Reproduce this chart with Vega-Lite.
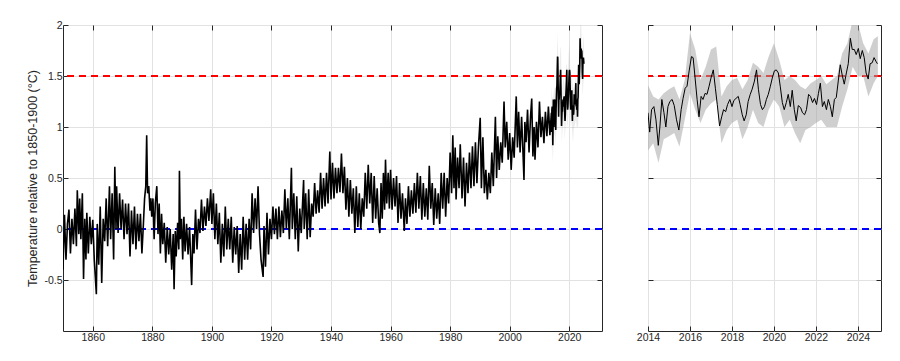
{
  "$schema": "https://vega.github.io/schema/vega-lite/v6.json",
  "padding": {"left": 26, "top": 19, "right": 5, "bottom": 5},
  "spacing": 46,
  "bounds": "flush",
  "config": {
    "font": "Liberation Sans",
    "view": {"stroke": "#262626", "strokeWidth": 1},
    "axis": {
      "domain": false,
      "tickSize": -5,
      "tickColor": "#262626",
      "labelColor": "#262626",
      "labelFont": "Liberation Sans",
      "labelFontSize": 10.5,
      "labelPadding": 6,
      "labelFlush": false,
      "labelOverlap": false,
      "titleFont": "Liberation Sans",
      "titleFontSize": 12.5,
      "titleFontWeight": "normal",
      "titleColor": "#262626",
      "titlePadding": 4,
      "gridColor": "#e2e2e2",
      "gridOpacity": 1
    }
  },
  "datasets": {
    "series": [
      {"t":1850.0,"v":-0.40},{"t":1850.5,"v":0.14},{"t":1851.0,"v":-0.30},{"t":1851.5,"v":0.05},
      {"t":1852.0,"v":0.19},{"t":1852.5,"v":-0.24},{"t":1853.0,"v":0.10},{"t":1853.5,"v":-0.15},
      {"t":1854.0,"v":0.20},{"t":1854.5,"v":-0.17},{"t":1854.8,"v":0.38},{"t":1855.3,"v":-0.05},{"t":1855.6,"v":0.30},
      {"t":1856.0,"v":-0.10},{"t":1856.5,"v":0.35},{"t":1856.9,"v":-0.49},{"t":1857.3,"v":0.10},{"t":1857.7,"v":-0.30},
      {"t":1858.0,"v":0.16},{"t":1858.5,"v":-0.24},{"t":1859.0,"v":0.12},{"t":1859.5,"v":-0.15},
      {"t":1860.0,"v":0.09},{"t":1860.5,"v":-0.30},{"t":1861.2,"v":-0.64},{"t":1861.5,"v":0.05},{"t":1862.0,"v":-0.35},
      {"t":1862.5,"v":0.22},{"t":1863.0,"v":-0.53},{"t":1863.5,"v":0.10},{"t":1864.0,"v":-0.12},
      {"t":1864.5,"v":0.30},{"t":1865.0,"v":-0.17},{"t":1865.6,"v":0.42},{"t":1866.0,"v":-0.10},
      {"t":1866.5,"v":0.35},{"t":1867.0,"v":-0.30},{"t":1867.4,"v":0.61},{"t":1867.8,"v":0.00},
      {"t":1868.0,"v":0.42},{"t":1868.5,"v":-0.04},{"t":1869.0,"v":0.35},{"t":1869.5,"v":0.00},
      {"t":1870.0,"v":0.29},{"t":1870.5,"v":-0.10},{"t":1871.0,"v":0.25},{"t":1871.5,"v":-0.05},
      {"t":1872.0,"v":0.25},{"t":1872.5,"v":-0.27},{"t":1873.0,"v":0.18},{"t":1873.5,"v":-0.15},
      {"t":1874.0,"v":0.22},{"t":1874.5,"v":-0.20},{"t":1875.0,"v":0.15},{"t":1875.5,"v":-0.12},
      {"t":1876.0,"v":0.15},{"t":1876.5,"v":-0.24},{"t":1877.0,"v":0.05},{"t":1877.4,"v":0.30},{"t":1877.8,"v":0.42},{"t":1878.1,"v":0.92},{"t":1878.4,"v":0.35},
      {"t":1878.8,"v":0.42},{"t":1879.2,"v":0.18},{"t":1879.5,"v":0.30},{"t":1879.8,"v":0.12},
      {"t":1880.2,"v":0.30},{"t":1880.6,"v":-0.10},{"t":1881.0,"v":0.25},{"t":1881.5,"v":0.42},{"t":1881.9,"v":-0.05},
      {"t":1882.3,"v":0.25},{"t":1882.7,"v":-0.24},{"t":1883.1,"v":0.15},{"t":1883.5,"v":-0.15},
      {"t":1884.0,"v":0.06},{"t":1884.5,"v":-0.33},{"t":1885.0,"v":0.02},{"t":1885.5,"v":-0.25},
      {"t":1886.0,"v":0.00},{"t":1886.5,"v":-0.40},{"t":1887.0,"v":-0.05},{"t":1887.3,"v":-0.59},{"t":1887.7,"v":-0.02},
      {"t":1888.0,"v":-0.27},{"t":1888.5,"v":0.06},{"t":1888.9,"v":-0.20},{"t":1889.1,"v":0.57},{"t":1889.4,"v":-0.10},
      {"t":1889.8,"v":0.10},{"t":1890.2,"v":-0.30},{"t":1890.6,"v":0.12},{"t":1891.0,"v":-0.22},{"t":1891.5,"v":0.05},
      {"t":1892.0,"v":-0.25},{"t":1892.5,"v":0.02},{"t":1893.2,"v":-0.55},{"t":1893.6,"v":-0.05},
      {"t":1894.0,"v":-0.24},{"t":1894.5,"v":0.19},{"t":1895.0,"v":-0.20},{"t":1895.5,"v":0.10},
      {"t":1896.0,"v":-0.04},{"t":1896.5,"v":0.29},{"t":1897.0,"v":-0.02},{"t":1897.5,"v":0.22},
      {"t":1898.0,"v":0.03},{"t":1898.5,"v":0.30},{"t":1899.0,"v":0.08},{"t":1899.6,"v":0.39},
      {"t":1900.0,"v":0.05},{"t":1900.5,"v":0.35},{"t":1901.0,"v":-0.10},{"t":1901.5,"v":0.25},
      {"t":1902.0,"v":-0.15},{"t":1902.5,"v":0.16},{"t":1903.0,"v":-0.33},{"t":1903.5,"v":0.05},
      {"t":1904.0,"v":-0.27},{"t":1904.5,"v":0.22},{"t":1905.0,"v":-0.20},{"t":1905.5,"v":0.10},
      {"t":1906.0,"v":-0.20},{"t":1906.5,"v":0.12},{"t":1907.0,"v":-0.33},{"t":1907.5,"v":0.02},
      {"t":1908.0,"v":-0.25},{"t":1908.5,"v":0.03},{"t":1909.0,"v":-0.43},{"t":1909.5,"v":-0.05},
      {"t":1910.0,"v":-0.40},{"t":1910.5,"v":0.12},{"t":1911.0,"v":-0.30},{"t":1911.5,"v":0.05},
      {"t":1912.0,"v":-0.30},{"t":1912.5,"v":0.10},{"t":1913.0,"v":-0.20},{"t":1913.5,"v":0.35},
      {"t":1914.0,"v":-0.04},{"t":1914.5,"v":0.30},{"t":1915.0,"v":0.00},{"t":1915.5,"v":0.42},
      {"t":1916.0,"v":-0.05},{"t":1916.5,"v":-0.30},{"t":1917.2,"v":-0.47},{"t":1917.5,"v":0.03},
      {"t":1918.0,"v":-0.37},{"t":1918.5,"v":0.16},{"t":1919.0,"v":-0.25},{"t":1919.5,"v":0.10},
      {"t":1920.0,"v":-0.10},{"t":1920.5,"v":0.22},{"t":1921.0,"v":-0.05},{"t":1921.5,"v":0.20},
      {"t":1922.0,"v":-0.10},{"t":1922.5,"v":0.22},{"t":1923.0,"v":-0.08},{"t":1923.5,"v":0.18},
      {"t":1924.0,"v":-0.04},{"t":1924.5,"v":0.39},{"t":1925.0,"v":0.00},{"t":1925.5,"v":0.30},
      {"t":1926.0,"v":-0.10},{"t":1926.7,"v":0.60},{"t":1927.0,"v":0.00},{"t":1927.5,"v":0.35},
      {"t":1928.0,"v":-0.10},{"t":1928.5,"v":0.32},{"t":1929.0,"v":-0.22},{"t":1929.5,"v":0.20},
      {"t":1930.0,"v":-0.04},{"t":1930.8,"v":0.48},{"t":1931.0,"v":0.00},{"t":1931.5,"v":0.35},
      {"t":1932.0,"v":-0.10},{"t":1932.5,"v":0.39},{"t":1933.0,"v":-0.08},{"t":1933.5,"v":0.25},
      {"t":1934.0,"v":0.12},{"t":1934.5,"v":0.45},{"t":1935.0,"v":0.15},{"t":1935.5,"v":0.38},
      {"t":1936.0,"v":0.16},{"t":1936.5,"v":0.55},{"t":1937.0,"v":0.20},{"t":1937.5,"v":0.50},
      {"t":1938.0,"v":0.22},{"t":1938.5,"v":0.55},{"t":1939.0,"v":0.25},{"t":1939.6,"v":0.76},
      {"t":1940.0,"v":0.29},{"t":1940.5,"v":0.65},{"t":1941.0,"v":0.30},{"t":1941.5,"v":0.60},
      {"t":1942.0,"v":0.35},{"t":1942.5,"v":0.60},{"t":1943.0,"v":0.36},{"t":1943.5,"v":0.74},
      {"t":1944.0,"v":0.35},{"t":1944.5,"v":0.61},{"t":1945.0,"v":0.19},{"t":1945.5,"v":0.50},
      {"t":1946.0,"v":0.12},{"t":1946.5,"v":0.48},{"t":1947.0,"v":0.15},{"t":1947.5,"v":0.40},
      {"t":1948.0,"v":-0.04},{"t":1948.5,"v":0.42},{"t":1949.0,"v":0.02},{"t":1949.5,"v":0.35},
      {"t":1950.0,"v":0.00},{"t":1950.5,"v":0.30},{"t":1951.0,"v":0.12},{"t":1951.5,"v":0.55},
      {"t":1952.0,"v":0.20},{"t":1952.5,"v":0.63},{"t":1953.0,"v":0.25},{"t":1953.5,"v":0.55},
      {"t":1954.0,"v":0.06},{"t":1954.5,"v":0.52},{"t":1955.0,"v":0.10},{"t":1955.5,"v":0.40},
      {"t":1956.0,"v":0.06},{"t":1956.4,"v":-0.04},{"t":1956.8,"v":0.45},{"t":1957.2,"v":0.10},{"t":1957.6,"v":0.55},
      {"t":1958.0,"v":0.19},{"t":1958.3,"v":0.68},{"t":1958.7,"v":0.25},{"t":1959.2,"v":0.55},{"t":1959.6,"v":0.20},
      {"t":1960.0,"v":0.58},{"t":1960.5,"v":0.19},{"t":1961.0,"v":0.50},{"t":1961.5,"v":0.22},
      {"t":1962.0,"v":0.52},{"t":1962.5,"v":0.06},{"t":1963.0,"v":0.45},{"t":1963.5,"v":0.10},
      {"t":1964.0,"v":0.35},{"t":1964.6,"v":-0.02},{"t":1965.0,"v":0.30},{"t":1965.5,"v":0.05},
      {"t":1966.0,"v":0.42},{"t":1966.5,"v":0.12},{"t":1967.0,"v":0.38},{"t":1967.5,"v":0.15},
      {"t":1968.0,"v":0.45},{"t":1968.5,"v":0.16},{"t":1969.0,"v":0.55},{"t":1969.5,"v":0.20},
      {"t":1970.0,"v":0.52},{"t":1970.5,"v":0.09},{"t":1971.0,"v":0.45},{"t":1971.5,"v":0.12},
      {"t":1972.0,"v":0.40},{"t":1972.5,"v":0.09},{"t":1973.0,"v":0.62},{"t":1973.5,"v":0.20},
      {"t":1974.0,"v":0.45},{"t":1974.5,"v":0.04},{"t":1975.0,"v":0.40},{"t":1975.5,"v":0.10},
      {"t":1976.0,"v":0.35},{"t":1976.5,"v":0.05},{"t":1977.0,"v":0.55},{"t":1977.5,"v":0.20},
      {"t":1978.0,"v":0.55},{"t":1978.5,"v":0.12},{"t":1979.0,"v":0.50},{"t":1979.5,"v":0.25},
      {"t":1980.0,"v":0.75},{"t":1980.5,"v":0.35},{"t":1980.9,"v":0.92},{"t":1981.3,"v":0.40},
      {"t":1981.7,"v":0.80},{"t":1982.0,"v":0.29},{"t":1982.5,"v":0.70},{"t":1983.0,"v":0.40},{"t":1983.4,"v":0.83},
      {"t":1984.0,"v":0.30},{"t":1984.5,"v":0.70},{"t":1985.0,"v":0.22},{"t":1985.5,"v":0.65},
      {"t":1986.0,"v":0.35},{"t":1986.5,"v":0.75},{"t":1987.0,"v":0.40},{"t":1987.5,"v":0.81},
      {"t":1988.0,"v":0.42},{"t":1988.5,"v":0.85},{"t":1989.0,"v":0.45},{"t":1989.5,"v":0.80},
      {"t":1990.1,"v":1.09},{"t":1990.5,"v":0.40},{"t":1991.0,"v":0.90},{"t":1991.5,"v":0.35},
      {"t":1992.0,"v":0.58},{"t":1992.5,"v":0.29},{"t":1993.0,"v":0.55},{"t":1993.5,"v":0.35},
      {"t":1994.0,"v":0.75},{"t":1994.5,"v":0.42},{"t":1995.2,"v":1.10},{"t":1995.6,"v":0.50},
      {"t":1996.0,"v":0.91},{"t":1996.5,"v":0.58},{"t":1997.0,"v":0.85},{"t":1997.5,"v":0.65},
      {"t":1998.1,"v":1.25},{"t":1998.5,"v":0.80},{"t":1999.0,"v":1.05},{"t":1999.5,"v":0.68},
      {"t":2000.0,"v":0.94},{"t":2000.5,"v":0.58},{"t":2001.0,"v":0.90},{"t":2001.5,"v":0.70},
      {"t":2002.2,"v":1.30},{"t":2002.6,"v":0.80},{"t":2003.0,"v":1.15},{"t":2003.5,"v":0.75},
      {"t":2004.0,"v":1.10},{"t":2004.4,"v":0.80},{"t":2004.8,"v":0.48},{"t":2005.1,"v":1.05},{"t":2005.5,"v":0.85},
      {"t":2006.0,"v":1.17},{"t":2006.5,"v":0.75},{"t":2007.0,"v":1.10},{"t":2007.4,"v":1.28},{"t":2007.8,"v":0.71},
      {"t":2008.2,"v":1.00},{"t":2008.5,"v":0.68},{"t":2009.0,"v":1.05},{"t":2009.5,"v":0.80},
      {"t":2010.0,"v":1.25},{"t":2010.5,"v":0.90},{"t":2011.0,"v":1.10},{"t":2011.5,"v":0.84},
      {"t":2012.0,"v":1.15},{"t":2012.5,"v":0.91},{"t":2013.0,"v":1.20},{"t":2013.5,"v":0.92},
      {"t":2014.00,"v":1.14},{"t":2014.08,"v":0.95},{"t":2014.17,"v":1.17},{"t":2014.28,"v":1.20},{"t":2014.38,"v":1.07},
      {"t":2014.49,"v":0.82},{"t":2014.57,"v":1.01},{"t":2014.66,"v":1.27},{"t":2014.76,"v":1.14},{"t":2014.85,"v":1.00},
      {"t":2014.95,"v":1.20},{"t":2015.04,"v":1.25},{"t":2015.15,"v":1.27},{"t":2015.25,"v":1.21},{"t":2015.36,"v":1.07},
      {"t":2015.47,"v":0.97},{"t":2015.58,"v":1.17},{"t":2015.67,"v":1.28},{"t":2015.77,"v":1.38},{"t":2015.86,"v":1.40},
      {"t":2015.96,"v":1.55},{"t":2016.07,"v":1.69},{"t":2016.15,"v":1.68},{"t":2016.23,"v":1.51},{"t":2016.34,"v":1.27},
      {"t":2016.43,"v":1.10},{"t":2016.53,"v":1.30},{"t":2016.62,"v":1.27},{"t":2016.72,"v":1.33},{"t":2016.81,"v":1.32},
      {"t":2016.91,"v":1.40},{"t":2017.00,"v":1.48},{"t":2017.11,"v":1.56},{"t":2017.21,"v":1.38},{"t":2017.30,"v":1.22},
      {"t":2017.41,"v":1.01},{"t":2017.51,"v":1.10},{"t":2017.60,"v":1.17},{"t":2017.70,"v":1.15},{"t":2017.79,"v":1.22},
      {"t":2017.90,"v":1.27},{"t":2018.00,"v":1.20},{"t":2018.09,"v":1.26},{"t":2018.19,"v":1.28},{"t":2018.30,"v":1.30},
      {"t":2018.39,"v":1.22},{"t":2018.49,"v":1.12},{"t":2018.58,"v":1.06},{"t":2018.68,"v":1.12},{"t":2018.77,"v":1.25},
      {"t":2018.87,"v":1.32},{"t":2018.96,"v":1.37},{"t":2019.07,"v":1.45},{"t":2019.17,"v":1.56},{"t":2019.26,"v":1.37},
      {"t":2019.36,"v":1.22},{"t":2019.45,"v":1.17},{"t":2019.55,"v":1.20},{"t":2019.64,"v":1.27},{"t":2019.73,"v":1.32},
      {"t":2019.83,"v":1.40},{"t":2019.92,"v":1.48},{"t":2020.02,"v":1.55},{"t":2020.11,"v":1.56},{"t":2020.21,"v":1.53},
      {"t":2020.30,"v":1.40},{"t":2020.40,"v":1.24},{"t":2020.49,"v":1.17},{"t":2020.59,"v":1.24},{"t":2020.68,"v":1.32},
      {"t":2020.78,"v":1.20},{"t":2020.87,"v":1.36},{"t":2020.97,"v":1.17},{"t":2021.06,"v":1.06},{"t":2021.16,"v":1.21},
      {"t":2021.27,"v":1.19},{"t":2021.36,"v":1.14},{"t":2021.46,"v":1.12},{"t":2021.55,"v":1.17},{"t":2021.65,"v":1.32},
      {"t":2021.74,"v":1.30},{"t":2021.84,"v":1.24},{"t":2021.93,"v":1.28},{"t":2022.03,"v":1.22},{"t":2022.12,"v":1.33},
      {"t":2022.21,"v":1.43},{"t":2022.31,"v":1.20},{"t":2022.40,"v":1.25},{"t":2022.50,"v":1.17},{"t":2022.59,"v":1.27},
      {"t":2022.69,"v":1.20},{"t":2022.78,"v":1.10},{"t":2022.88,"v":1.27},{"t":2022.97,"v":1.29},{"t":2023.07,"v":1.46},
      {"t":2023.16,"v":1.61},{"t":2023.26,"v":1.50},{"t":2023.35,"v":1.42},{"t":2023.45,"v":1.53},{"t":2023.54,"v":1.62},
      {"t":2023.64,"v":1.87},{"t":2023.73,"v":1.76},{"t":2023.83,"v":1.76},{"t":2023.92,"v":1.71},{"t":2024.02,"v":1.77},
      {"t":2024.11,"v":1.67},{"t":2024.21,"v":1.75},{"t":2024.30,"v":1.68},{"t":2024.39,"v":1.53},{"t":2024.49,"v":1.47},
      {"t":2024.58,"v":1.62},{"t":2024.68,"v":1.63},{"t":2024.77,"v":1.68},{"t":2024.87,"v":1.64},{"t":2024.93,"v":1.62}
    ],
    "band": [
      {"t":2014.00,"lo":0.77,"hi":1.41},{"t":2014.25,"lo":0.84,"hi":1.30},{"t":2014.50,"lo":0.65,"hi":1.27},{"t":2014.75,"lo":0.88,"hi":1.33},
      {"t":2015.00,"lo":0.91,"hi":1.37},{"t":2015.25,"lo":0.94,"hi":1.40},{"t":2015.50,"lo":0.81,"hi":1.27},{"t":2015.75,"lo":1.07,"hi":1.46},
      {"t":2016.00,"lo":1.33,"hi":1.92},{"t":2016.25,"lo":1.17,"hi":1.76},{"t":2016.50,"lo":1.04,"hi":1.46},{"t":2016.75,"lo":1.17,"hi":1.59},
      {"t":2017.00,"lo":1.23,"hi":1.76},{"t":2017.25,"lo":1.27,"hi":1.79},{"t":2017.50,"lo":0.84,"hi":1.30},{"t":2017.75,"lo":0.97,"hi":1.40},
      {"t":2018.00,"lo":1.04,"hi":1.46},{"t":2018.25,"lo":1.07,"hi":1.48},{"t":2018.50,"lo":0.88,"hi":1.37},{"t":2018.75,"lo":1.00,"hi":1.46},
      {"t":2019.00,"lo":1.17,"hi":1.63},{"t":2019.25,"lo":1.04,"hi":1.59},{"t":2019.50,"lo":1.00,"hi":1.53},{"t":2019.75,"lo":1.17,"hi":1.69},
      {"t":2020.00,"lo":1.27,"hi":1.82},{"t":2020.25,"lo":1.20,"hi":1.66},{"t":2020.50,"lo":1.00,"hi":1.46},{"t":2020.75,"lo":1.07,"hi":1.50},
      {"t":2021.00,"lo":0.94,"hi":1.46},{"t":2021.25,"lo":0.84,"hi":1.40},{"t":2021.50,"lo":0.97,"hi":1.37},{"t":2021.75,"lo":1.00,"hi":1.43},
      {"t":2022.00,"lo":1.04,"hi":1.46},{"t":2022.25,"lo":1.07,"hi":1.50},{"t":2022.50,"lo":1.00,"hi":1.42},{"t":2022.75,"lo":1.00,"hi":1.46},
      {"t":2023.00,"lo":1.00,"hi":1.50},{"t":2023.25,"lo":1.20,"hi":1.72},{"t":2023.50,"lo":1.37,"hi":1.82},{"t":2023.75,"lo":1.59,"hi":2.05},
      {"t":2024.00,"lo":1.50,"hi":2.02},{"t":2024.25,"lo":1.50,"hi":1.82},{"t":2024.50,"lo":1.30,"hi":1.72},{"t":2024.75,"lo":1.43,"hi":1.86},
      {"t":2024.95,"lo":1.50,"hi":1.89}
    ]
  },
  "hconcat": [
    {
      "width": 539,
      "height": 306,
      "resolve": {"axis": {"x": "independent", "y": "independent"}},
      "layer": [
        {
          "data": {"values": [{"level": 0}]},
          "mark": {"type": "rule", "color": "#0000ff", "strokeWidth": 2, "strokeDash": [7, 5]},
          "encoding": {"y": {"field": "level", "type": "quantitative", "scale": {"domain": [-1, 2], "nice": false, "zero": false}, "axis": null}}
        },
        {
          "data": {"values": [{"level": 1.5}]},
          "mark": {"type": "rule", "color": "#ff0000", "strokeWidth": 2, "strokeDash": [7, 5]},
          "encoding": {"y": {"field": "level", "type": "quantitative", "scale": {"domain": [-1, 2], "nice": false, "zero": false}, "axis": null}}
        },
        {
          "data": {"name": "band"},
          "mark": {"type": "area", "color": "#a0a0a0", "opacity": 0.2, "clip": true},
          "encoding": {
            "x": {"field": "t", "type": "quantitative", "scale": {"domain": [1850, 2031], "nice": false, "zero": false},
                  "axis": {"orient": "top", "values": [1860,1880,1900,1920,1940,1960,1980,2000,2020], "labels": false, "grid": false, "title": null}},
            "y": {"field": "lo", "type": "quantitative", "scale": {"domain": [-1, 2], "nice": false, "zero": false},
                  "axis": {"orient": "right", "values": [-0.5,0,0.5,1,1.5,2], "labels": false, "grid": false, "title": null}},
            "y2": {"field": "hi"}
          }
        },
        {
          "data": {"name": "series"},
          "mark": {"type": "line", "color": "#000000", "strokeWidth": 1.6, "strokeJoin": "bevel", "clip": true},
          "encoding": {
            "x": {"field": "t", "type": "quantitative", "scale": {"domain": [1850, 2031], "nice": false, "zero": false},
                  "axis": {"orient": "bottom", "values": [1860,1880,1900,1920,1940,1960,1980,2000,2020], "format": "d", "grid": true, "title": null}},
            "y": {"field": "v", "type": "quantitative", "scale": {"domain": [-1, 2], "nice": false, "zero": false},
                  "axis": {"orient": "left", "values": [-0.5,0,0.5,1,1.5,2], "labelExpr": "'' + datum.value", "grid": true, "title": "Temperature relative to 1850-1900 (°C)"}}
          }
        }
      ]
    },
    {
      "width": 233,
      "height": 306,
      "resolve": {"axis": {"x": "independent", "y": "independent"}},
      "layer": [
        {
          "data": {"values": [{"level": 0}]},
          "mark": {"type": "rule", "color": "#0000ff", "strokeWidth": 2, "strokeDash": [7, 5]},
          "encoding": {"y": {"field": "level", "type": "quantitative", "scale": {"domain": [-1, 2], "nice": false, "zero": false}, "axis": null}}
        },
        {
          "data": {"values": [{"level": 1.5}]},
          "mark": {"type": "rule", "color": "#ff0000", "strokeWidth": 2, "strokeDash": [7, 5]},
          "encoding": {"y": {"field": "level", "type": "quantitative", "scale": {"domain": [-1, 2], "nice": false, "zero": false}, "axis": null}}
        },
        {
          "data": {"name": "band"},
          "mark": {"type": "area", "color": "#a0a0a0", "opacity": 0.5, "clip": true},
          "encoding": {
            "x": {"field": "t", "type": "quantitative", "scale": {"domain": [2014, 2025.1], "nice": false, "zero": false},
                  "axis": {"orient": "top", "values": [2014,2016,2018,2020,2022,2024], "labels": false, "grid": false, "title": null}},
            "y": {"field": "lo", "type": "quantitative", "scale": {"domain": [-1, 2], "nice": false, "zero": false},
                  "axis": {"orient": "right", "values": [-0.5,0,0.5,1,1.5,2], "labels": false, "grid": false, "title": null}},
            "y2": {"field": "hi"}
          }
        },
        {
          "data": {"name": "series"},
          "transform": [{"filter": "datum.t >= 2014"}],
          "mark": {"type": "line", "color": "#000000", "strokeWidth": 1, "clip": true},
          "encoding": {
            "x": {"field": "t", "type": "quantitative", "scale": {"domain": [2014, 2025.1], "nice": false, "zero": false},
                  "axis": {"orient": "bottom", "values": [2014,2016,2018,2020,2022,2024], "format": "d", "grid": true, "title": null}},
            "y": {"field": "v", "type": "quantitative", "scale": {"domain": [-1, 2], "nice": false, "zero": false},
                  "axis": {"orient": "left", "values": [-0.5,0,0.5,1,1.5,2], "labels": false, "grid": true, "title": null}}
          }
        }
      ]
    }
  ]
}
